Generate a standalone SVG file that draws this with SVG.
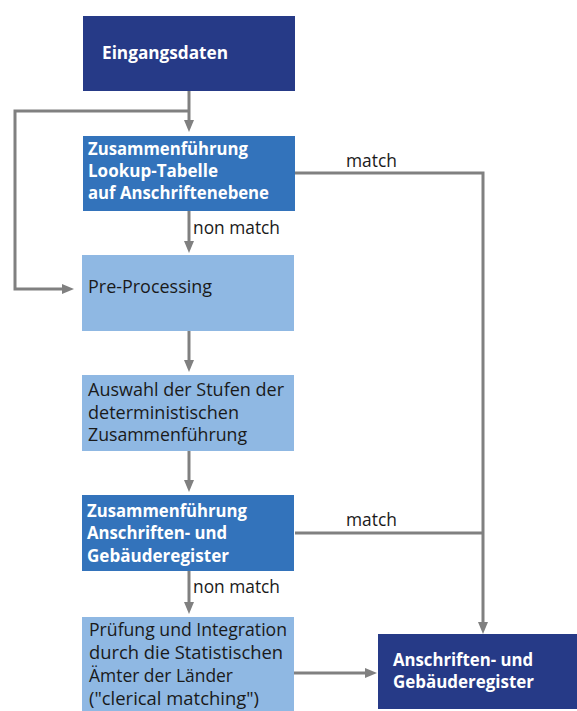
<svg xmlns="http://www.w3.org/2000/svg" width="577" height="711" viewBox="0 0 577 711">
<defs>
<style>
.dark{fill:#263a87}
.mid{fill:#3373bb}
.light{fill:#8fb8e3}
text{font-family:"Open Sans","Noto Sans",sans-serif;font-size:18px}
.w{fill:#ffffff;font-weight:bold}
.k{fill:#1a1a1a}
.c{fill:none;stroke:#808080;stroke-width:3}
</style>
<marker id="ah" markerUnits="userSpaceOnUse" markerWidth="12" markerHeight="10" refX="4" refY="5" orient="auto">
<path d="M0,0 L12,5 L0,10 z" fill="#808080"/>
</marker>
</defs>
<rect width="577" height="711" fill="#ffffff"/>
<g id="connectors">
<path class="c" d="M189,91 V124" marker-end="url(#ah)"/>
<path class="c" d="M189,111 H15 V289 H66" marker-end="url(#ah)"/>
<path class="c" d="M189,211 V245" marker-end="url(#ah)"/>
<path class="c" d="M189,331 V364" marker-end="url(#ah)"/>
<path class="c" d="M189,451 V484" marker-end="url(#ah)"/>
<path class="c" d="M189,571 V606" marker-end="url(#ah)"/>
<path class="c" d="M294,173 H483 V626" marker-end="url(#ah)"/>
<path class="c" d="M295,533 H483"/>
<path class="c" d="M294,673 H369" marker-end="url(#ah)"/>
<text class="k" x="346" y="167" textLength="51" lengthAdjust="spacingAndGlyphs">match</text>
<text class="k" x="346" y="526" textLength="51" lengthAdjust="spacingAndGlyphs">match</text>
<text class="k" x="193" y="234" textLength="87" lengthAdjust="spacingAndGlyphs">non match</text>
<text class="k" x="193" y="593" textLength="87" lengthAdjust="spacingAndGlyphs">non match</text>
</g>
<g id="eingangsdaten">
<rect class="dark" x="83" y="16" width="212" height="75"/>
<text class="w" x="102" y="59" textLength="126" lengthAdjust="spacingAndGlyphs">Eingangsdaten</text>
</g>
<g id="lookup">
<rect class="mid" x="83" y="136" width="212" height="75"/>
<text class="w" x="88" y="155" textLength="160" lengthAdjust="spacingAndGlyphs">Zusammenführung</text>
<text class="w" x="88" y="177" textLength="130" lengthAdjust="spacingAndGlyphs">Lookup-Tabelle</text>
<text class="w" x="88" y="199" textLength="181" lengthAdjust="spacingAndGlyphs">auf Anschriftenebene</text>
</g>
<g id="preprocessing">
<rect class="light" x="82" y="255" width="212" height="76"/>
<text class="k" x="88" y="293" textLength="124" lengthAdjust="spacingAndGlyphs">Pre-Processing</text>
</g>
<g id="auswahl">
<rect class="light" x="82" y="375" width="212" height="76"/>
<text class="k" x="88" y="396" textLength="196" lengthAdjust="spacingAndGlyphs">Auswahl der Stufen der</text>
<text class="k" x="88" y="419" textLength="151" lengthAdjust="spacingAndGlyphs">deterministischen</text>
<text class="k" x="88" y="441" textLength="159" lengthAdjust="spacingAndGlyphs">Zusammenführung</text>
</g>
<g id="zusammenfuehrung">
<rect class="mid" x="82" y="495" width="212" height="76"/>
<text class="w" x="87" y="517" textLength="160" lengthAdjust="spacingAndGlyphs">Zusammenführung</text>
<text class="w" x="87" y="539" textLength="140" lengthAdjust="spacingAndGlyphs">Anschriften- und</text>
<text class="w" x="87" y="562" textLength="142" lengthAdjust="spacingAndGlyphs">Gebäuderegister</text>
</g>
<g id="pruefung">
<rect class="light" x="82" y="617" width="212" height="94"/>
<text class="k" x="89" y="636" textLength="198" lengthAdjust="spacingAndGlyphs">Prüfung und Integration</text>
<text class="k" x="89" y="659" textLength="194" lengthAdjust="spacingAndGlyphs">durch die Statistischen</text>
<text class="k" x="89" y="682" textLength="144" lengthAdjust="spacingAndGlyphs">Ämter der Länder</text>
<text class="k" x="89" y="705" textLength="170" lengthAdjust="spacingAndGlyphs">("clerical matching")</text>
</g>
<g id="register">
<rect class="dark" x="378" y="634" width="199" height="75"/>
<text class="w" x="393" y="666" textLength="140" lengthAdjust="spacingAndGlyphs">Anschriften- und</text>
<text class="w" x="393" y="688" textLength="141" lengthAdjust="spacingAndGlyphs">Gebäuderegister</text>
</g>
</svg>
